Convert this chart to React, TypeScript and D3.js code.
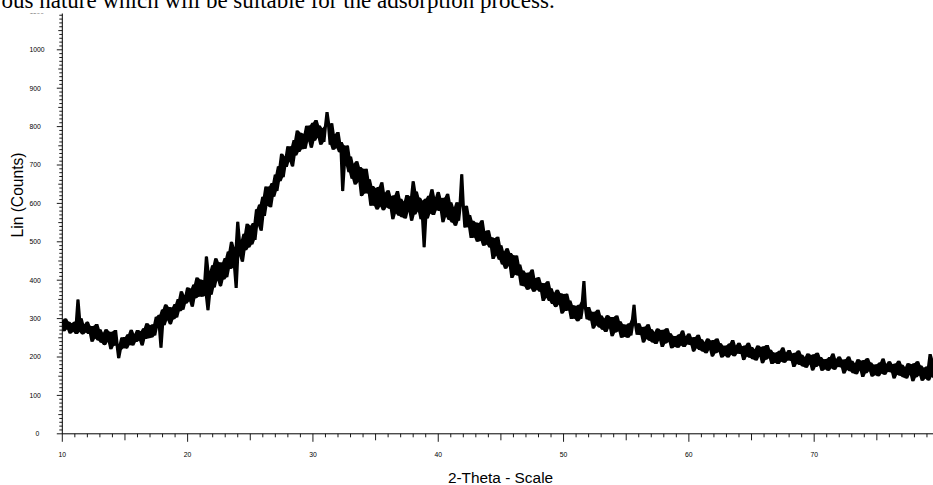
import * as d3 from "d3";

// raw scan: start angle, step size and counts (8 steps per row = 1 degree)
const startAngle = 10;
const stepSize = 0.125;
const counts: number[] = [
  295, 267, 300, 272, 292, 261, 288, 266, // 10
  292, 260, 350, 265, 301, 259, 285, 264, // 11
  292, 260, 281, 240, 281, 248, 286, 243, // 12
  272, 237, 263, 231, 272, 239, 266, 220, // 13
  266, 229, 270, 233, 197, 218, 251, 223, // 14
  252, 222, 259, 231, 271, 230, 260, 239, // 15
  270, 242, 267, 230, 275, 247, 288, 249, // 16
  283, 251, 285, 256, 305, 276, 310, 224, // 17
  324, 283, 337, 296, 330, 285, 329, 298, // 18
  338, 303, 351, 319, 371, 323, 361, 339, // 19
  381, 345, 378, 331, 389, 353, 407, 357, // 20
  402, 357, 400, 359, 462, 322, 423, 362, // 21
  439, 381, 457, 399, 447, 384, 446, 402, // 22
  458, 408, 475, 429, 500, 432, 485, 380, // 23
  552, 463, 505, 448, 521, 478, 547, 485, // 24
  542, 493, 549, 505, 585, 541, 597, 529, // 25
  617, 567, 644, 594, 644, 590, 653, 617, // 26
  675, 632, 697, 658, 729, 668, 722, 695, // 27
  749, 709, 749, 696, 765, 725, 790, 734, // 28
  784, 741, 781, 742, 802, 762, 803, 745, // 29
  810, 763, 817, 771, 803, 753, 796, 760, // 30
  801, 838, 801, 753, 809, 740, 780, 744, // 31
  786, 733, 760, 632, 751, 699, 751, 681, // 32
  722, 664, 703, 649, 710, 656, 695, 619, // 33
  690, 626, 690, 626, 663, 594, 645, 594, // 34
  640, 584, 643, 592, 655, 582, 628, 590, // 35
  634, 586, 619, 559, 621, 574, 632, 568, // 36
  612, 564, 605, 561, 622, 578, 618, 555, // 37
  658, 571, 631, 579, 615, 559, 607, 486, // 38
  612, 561, 620, 574, 637, 570, 616, 582, // 39
  630, 580, 614, 551, 615, 565, 625, 557, // 40
  603, 550, 590, 542, 603, 555, 594, 676, // 41
  593, 537, 594, 538, 570, 510, 555, 511, // 42
  550, 500, 549, 503, 556, 490, 528, 493, // 43
  530, 485, 512, 455, 509, 464, 513, 453, // 44
  491, 441, 475, 430, 483, 437, 471, 406, // 45
  465, 414, 464, 412, 441, 386, 425, 384, // 46
  419, 375, 420, 379, 428, 370, 405, 375, // 47
  408, 370, 393, 346, 392, 354, 397, 346, // 48
  379, 338, 367, 330, 375, 337, 366, 313, // 49
  364, 320, 365, 321, 347, 299, 335, 300, // 50
  333, 293, 336, 299, 345, 398, 326, 298, // 51
  330, 295, 318, 274, 318, 283, 323, 277, // 52
  308, 271, 300, 265, 309, 275, 304, 254, // 53
  304, 264, 308, 267, 293, 250, 285, 253, // 54
  284, 250, 288, 256, 298, 336, 282, 258, // 55
  288, 257, 278, 238, 279, 247, 285, 242, // 56
  272, 238, 265, 234, 274, 243, 270, 226, // 57
  271, 235, 275, 239, 262, 223, 255, 227, // 58
  255, 224, 259, 230, 269, 226, 254, 233, // 59
  261, 231, 251, 214, 252, 223, 258, 218, // 60
  246, 214, 239, 210, 248, 218, 243, 201, // 61
  244, 210, 248, 213, 236, 199, 229, 203, // 62
  230, 199, 235, 206, 244, 202, 230, 209, // 63
  237, 208, 228, 192, 230, 201, 237, 198, // 64
  226, 194, 220, 191, 230, 201, 226, 184, // 65
  228, 193, 231, 197, 219, 182, 212, 185, // 66
  212, 182, 216, 188, 225, 185, 212, 191, // 67
  218, 190, 209, 174, 211, 182, 217, 179, // 68
  206, 175, 200, 172, 209, 181, 205, 165, // 69
  207, 174, 211, 178, 200, 164, 194, 168, // 70
  195, 164, 200, 171, 209, 167, 195, 174, // 71
  201, 173, 193, 157, 194, 166, 201, 163, // 72
  190, 158, 184, 155, 194, 165, 190, 148, // 73
  192, 158, 197, 163, 186, 149, 180, 153, // 74
  181, 150, 186, 157, 196, 154, 182, 161, // 75
  189, 160, 181, 144, 183, 154, 190, 151, // 76
  180, 147, 174, 144, 184, 154, 181, 137, // 77
  184, 147, 189, 152, 178, 138, 172, 144, // 78
  175, 139, 208, 148, 193, 144, 177, 153, // 79
];

const yTicks = [0, 100, 200, 300, 400, 500, 600, 700, 800, 900, 1000, 1100];
const xTicks = [10, 20, 30, 40, 50, 60, 70];
const caption = "ous nature which will be suitable for the adsorption process.";

export default function App() {
  const width = 933;
  const height = 485;
  const axisFont = "'Liberation Sans', Arial, sans-serif";

  const x = d3.scaleLinear().domain([10, 80]).range([62.3, 939.5]);
  const y = d3.scaleLinear().domain([0, 1100]).range([433.8, 11.4]);
  const angle = (i: number) => startAngle + i * stepSize;

  const line = d3
    .line<number>()
    .x((_, i) => x(angle(i)))
    .y((d) => y(d));

  // dense noise reads as a solid band: fill between each point's neighbours
  const neighbours = (i: number) => counts.slice(Math.max(0, i - 1), i + 2);
  const band = d3
    .area<number>()
    .x((_, i) => x(angle(i)))
    .y0((_, i) => y(d3.min(neighbours(i)) ?? 0))
    .y1((_, i) => y(d3.max(neighbours(i)) ?? 0));

  const minorY = d3.range(0, 1101, 10);
  const minorX = d3.range(10, 80, 1);

  return (
    <svg
      width={width}
      height={height}
      viewBox={`0 0 ${width} ${height}`}
      style={{ position: "fixed", left: 0, top: 0, background: "#fff" }}
    >
      <defs>
        <clipPath id="plot">
          <rect x={62} y={13.5} width={width - 62} height={421} />
        </clipPath>
      </defs>

      {/* trace */}
      <g clipPath="url(#plot)">
        <path d={band(counts) ?? ""} fill="#000" />
        <path d={line(counts) ?? ""} fill="none" stroke="#000" strokeWidth={1.1} strokeLinejoin="bevel" />
      </g>

      {/* y axis */}
      <line x1={x(10)} x2={x(10)} y1={y(0)} y2={y(1100)} stroke="#000" strokeWidth={1} />
      {minorY.map((v) => (
        <line
          key={`my${v}`}
          x1={x(10) - (v % 100 === 0 ? 5.5 : v % 50 === 0 ? 4 : 3)}
          x2={x(10)}
          y1={y(v)}
          y2={y(v)}
          stroke="#000"
          strokeWidth={0.9}
        />
      ))}
      {yTicks.map((v) => (
        <text
          key={`yt${v}`}
          x={v === 0 ? 35.5 : 29.5}
          y={y(v) + 2.4}
          fontSize={6.8}
          fontFamily={axisFont}
          fill="#000"
        >
          {v}
        </text>
      ))}

      {/* x axis */}
      <line x1={x(10)} x2={width} y1={y(0)} y2={y(0)} stroke="#000" strokeWidth={1} />
      {minorX.map((v) => (
        <line
          key={`mx${v}`}
          x1={x(v)}
          x2={x(v)}
          y1={y(0)}
          y2={y(0) + (v % 10 === 0 ? 8 : v % 5 === 0 ? 6.5 : 3.5)}
          stroke="#000"
          strokeWidth={0.9}
        />
      ))}
      {xTicks.map((v) => (
        <text
          key={`xt${v}`}
          x={x(v)}
          y={457}
          fontSize={6.8}
          fontFamily={axisFont}
          textAnchor="middle"
          fill="#000"
        >
          {v}
        </text>
      ))}

      <text x={500.5} y={483} fontSize={15.4} fontFamily={axisFont} textAnchor="middle" fill="#000">
        2-Theta - Scale
      </text>
      <text
        transform="translate(23,195) rotate(-90)"
        fontSize={15.6}
        fontFamily={axisFont}
        textAnchor="middle"
        fill="#000"
      >
        Lin (Counts)
      </text>

      {/* page text cropped above the chart */}
      <rect x={0} y={0} width={width} height={13.5} fill="#fff" />
      <text x={1.5} y={7.5} fontSize={23} fontFamily="'Liberation Serif', 'Times New Roman', serif" fill="#000">
        {caption}
      </text>
    </svg>
  );
}
